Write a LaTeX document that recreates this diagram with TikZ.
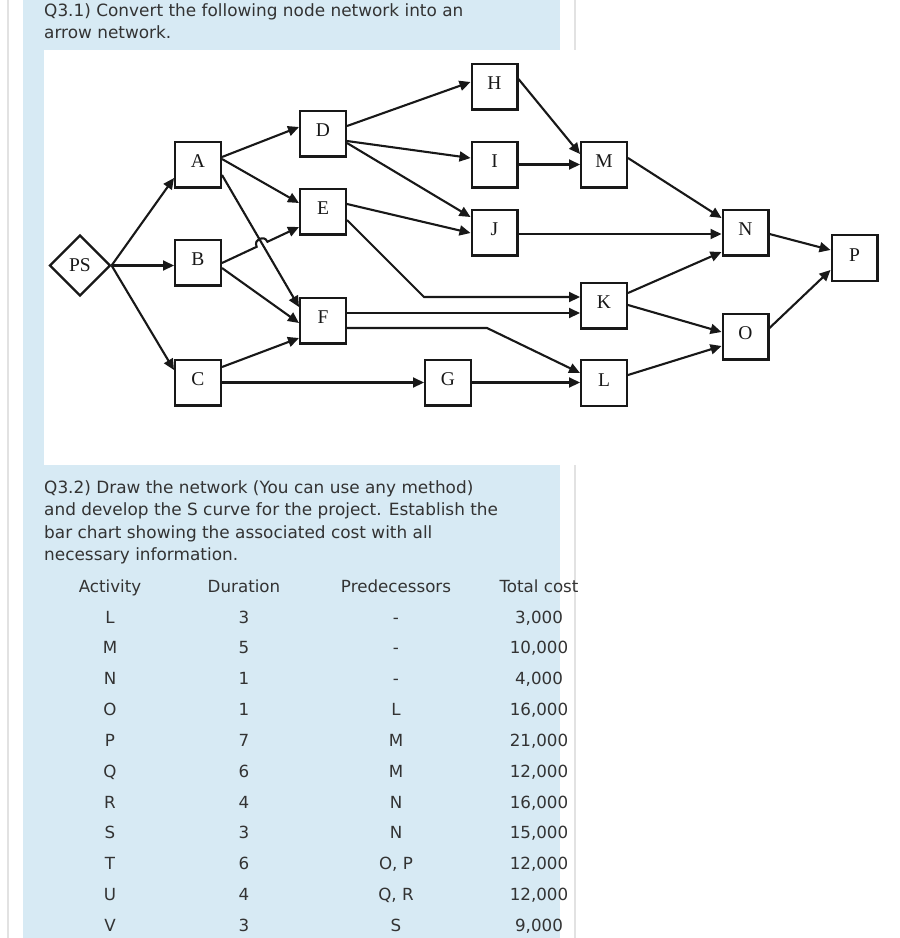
\documentclass[tikz,border=0pt]{standalone}
\usepackage{fontspec}
\setmainfont{DejaVu Sans}
\newfontfamily\diagfont{Liberation Serif}
\usetikzlibrary{arrows.meta,shapes.geometric,calc}
\definecolor{panelblue}{RGB}{215,234,244}
\definecolor{rulegray}{RGB}{226,226,226}
\definecolor{txt}{RGB}{51,51,51}
\definecolor{ink}{RGB}{24,24,24}
\newcommand{\tabrow}[5]{%
  \node[cell] at (110,#1) {#2};
  \node[cell] at (244,#1) {#3};
  \node[cell] at (396,#1) {#4};
  \node[cell] at (539,#1) {#5};}
\begin{document}
\begin{tikzpicture}[x=1pt,y=-1pt,
  box/.style={draw=ink,line width=2.2pt,minimum width=45.8pt,minimum height=45.8pt,inner sep=0pt,
    font=\diagfont\fontsize{19.5}{19.5}\selectfont,text=ink,text height=13.5pt,text depth=7pt},
  dia/.style={draw=ink,line width=2.2pt,diamond,minimum width=61pt,minimum height=61pt,inner sep=0pt,
    font=\diagfont\fontsize{19.5}{19.5}\selectfont,text=ink},
  conn/.style={draw=ink,line width=2.1pt,-{Triangle[length=11pt,width=10pt]}},
  para/.style={anchor=base west,inner sep=0pt,text=txt,font=\fontsize{16.9}{20}\selectfont},
  cell/.style={anchor=base,inner sep=0pt,text=txt,font=\fontsize{16.7}{20}\selectfont}]
\useasboundingbox (0,0) rectangle (900,938);
% backgrounds
\fill[white] (0,0) rectangle (900,938);
\fill[rulegray] (6.5,0) rectangle (8.5,938);
\fill[rulegray] (574,0) rectangle (576,938);
\fill[panelblue] (23,0) rectangle (560,938);
\fill[white] (43.5,50) rectangle (900,465);
% texts
\node[para] (t1) at (44,16) {Q3.1) Convert the following node network into an};
\node[para] (t2) at (44,38) {arrow network.};
\node[para] (t3) at (44,493) {Q3.2) Draw the network (You can use any method)};
\node[para] (t4) at (44,515.5) {and develop the S curve for the project. Establish the};
\node[para] (t5) at (44,538) {bar chart showing the associated cost with all};
\node[para] (t6) at (44,560.5) {necessary information.};
\tabrow{592}{Activity}{Duration}{Predecessors}{Total cost}
\tabrow{623}{L}{3}{-}{3,000}
\tabrow{653.8}{M}{5}{-}{10,000}
\tabrow{684.7}{N}{1}{-}{4,000}
\tabrow{715.5}{O}{1}{L}{16,000}
\tabrow{746.3}{P}{7}{M}{21,000}
\tabrow{777.2}{Q}{6}{M}{12,000}
\tabrow{808}{R}{4}{N}{16,000}
\tabrow{838.8}{S}{3}{N}{15,000}
\tabrow{869.6}{T}{6}{O, P}{12,000}
\tabrow{900.5}{U}{4}{Q, R}{12,000}
\tabrow{931.3}{V}{3}{S}{9,000}
% nodes
\node[dia] (PS) at (80,265.5) {PS};
\node[box] (A) at (198,164.5) {A};
\node[box] (B) at (198,262.5) {B};
\node[box] (C) at (198,382.5) {C};
\node[box] (D) at (323,133.5) {D};
\node[box] (E) at (323,211.5) {E};
\node[box] (F) at (323,320.5) {F};
\node[box] (G) at (448,382.5) {G};
\node[box] (H) at (494.5,86.5) {H};
\node[box] (I) at (494.5,164.5) {I};
\node[box] (J) at (494.5,232.5) {J};
\node[box] (M) at (604,164.5) {M};
\node[box] (K) at (604,305.5) {K};
\node[box] (L) at (604,383) {L};
\node[box] (N) at (745.5,232.5) {N};
\node[box] (O) at (745.5,336.5) {O};
\node[box] (P) at (854.5,258) {P};
% connectors
\draw[conn] (PS.east) -- ([shift={(0,13.5)}]A.west);
\draw[conn] (PS.east) -- (PS.east -| B.west);
\draw[conn] (PS.east) -- ([shift={(0,-12.5)}]C.west);
\draw[conn] ([shift={(0,-7.5)}]A.east) -- ([shift={(0,-6.5)}]D.west);
\draw[conn] ([shift={(0,-5.5)}]A.east) -- ([shift={(0,-8.5)}]E.west);
\draw[conn] ([shift={(0,10.5)}]A.east) -- ([shift={(0,-13.5)}]F.west);
\coordinate (be1) at ([shift={(0,0.5)}]B.east);
\coordinate (be2) at ([shift={(0,15.5)}]E.west);
\draw[conn] (be1) -- ($(be1)!0.45!(be2)$)
  .. controls ($(be1)!0.45!(be2)+(-3.4,-7.5)$) and ($(be1)!0.59!(be2)+(-3.4,-7.5)$) .. ($(be1)!0.59!(be2)$)
  -- (be2);
\draw[conn] ([shift={(0,5.5)}]B.east) -- ([shift={(0,2.5)}]F.west);
\draw[conn] ([shift={(0,-15.5)}]C.east) -- ([shift={(0,17.5)}]F.west);
\draw[conn] (C.east) -- (G.west);
\draw[conn] ([shift={(0,-7.5)}]D.east) -- ([shift={(0,-4.5)}]H.west);
\draw[conn] ([shift={(0,7.5)}]D.east) -- ([shift={(0,-6.5)}]I.west);
\draw[conn] ([shift={(0,9.5)}]D.east) -- ([shift={(0,-15.5)}]J.west);
\draw[conn] ([shift={(0,-7.5)}]E.east) -- ([shift={(0,0.5)}]J.west);
\coordinate (kin) at ([shift={(0,-8.5)}]K.west);
\draw[conn] ([shift={(0,8.5)}]E.east) -- (kin -| G.west) -- (kin);
\draw[conn] ([shift={(0,-7.5)}]F.east) -- ([shift={(0,7.5)}]K.west);
\draw[conn] ([shift={(0,7.5)}]F.east) -- ++(140,0) -- ([shift={(0,-10)}]L.west);
\draw[conn] (G.east) -- (G.east -| L.west);
\draw[conn] ([shift={(0,-7.5)}]H.east) -- ([shift={(0,-10.5)}]M.west);
\draw[conn] (I.east) -- (M.west);
\draw[conn] ([shift={(0,1.5)}]J.east) -- ([shift={(0,1.5)}]N.west);
\draw[conn] ([shift={(0,-6.5)}]M.east) -- ([shift={(0,-14.5)}]N.west);
\draw[conn] ([shift={(0,-12.5)}]K.east) -- ([shift={(0,19.5)}]N.west);
\draw[conn] ([shift={(0,-0.5)}]K.east) -- ([shift={(0,-4.5)}]O.west);
\draw[conn] ([shift={(0,-8)}]L.east) -- ([shift={(0,9.5)}]O.west);
\draw[conn] ([shift={(0,1.5)}]N.east) -- ([shift={(0,-8)}]P.west);
\draw[conn] ([shift={(0,-8.5)}]O.east) -- ([shift={(0,12)}]P.west);
\end{tikzpicture}
\end{document}
